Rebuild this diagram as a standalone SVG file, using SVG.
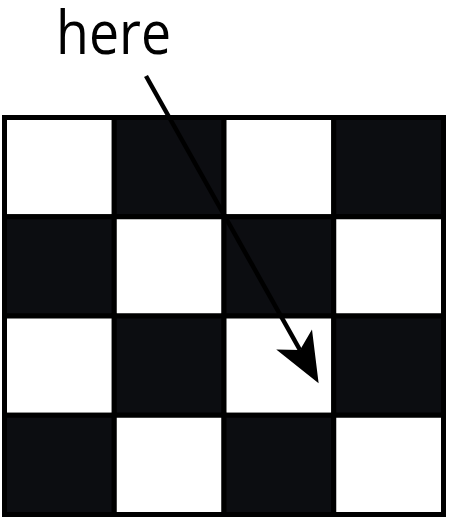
<svg xmlns="http://www.w3.org/2000/svg" width="450" height="520" viewBox="0 0 450 520">
<style>
.w{fill:#ffffff;stroke:#000;stroke-width:5}
.b{fill:#0c0d11;stroke:#000;stroke-width:5}
.lbl{font-family:"Open Sans","Noto Sans",sans-serif;font-size:61px;fill:#000}
.conn{stroke:#000;stroke-width:4.5;fill:none}
</style>
<defs>
<marker id="ah" markerUnits="userSpaceOnUse" markerWidth="60" markerHeight="50" viewBox="-15 -25 60 50" refX="0" refY="0" orient="auto" overflow="visible">
<path d="M38,0 L-12,-20.5 L0,0 L-12,20.5 Z" fill="#000"/>
</marker>
</defs>
<g id="board">
<g id="r0">
<rect class="w" x="4.5" y="117.5" width="109.75" height="99.25"/>
<rect class="b" x="114.25" y="117.5" width="109.75" height="99.25"/>
<rect class="w" x="224" y="117.5" width="109.75" height="99.25"/>
<rect class="b" x="333.75" y="117.5" width="109.75" height="99.25"/>
</g>
<g id="r1">
<rect class="b" x="4.5" y="216.75" width="109.75" height="99.25"/>
<rect class="w" x="114.25" y="216.75" width="109.75" height="99.25"/>
<rect class="b" x="224" y="216.75" width="109.75" height="99.25"/>
<rect class="w" x="333.75" y="216.75" width="109.75" height="99.25"/>
</g>
<g id="r2">
<rect class="w" x="4.5" y="316" width="109.75" height="99.25"/>
<rect class="b" x="114.25" y="316" width="109.75" height="99.25"/>
<rect class="w" x="224" y="316" width="109.75" height="99.25"/>
<rect class="b" x="333.75" y="316" width="109.75" height="99.25"/>
</g>
<g id="r3">
<rect class="b" x="4.5" y="415.25" width="109.75" height="99.25"/>
<rect class="w" x="114.25" y="415.25" width="109.75" height="99.25"/>
<rect class="b" x="224" y="415.25" width="109.75" height="99.25"/>
<rect class="w" x="333.75" y="415.25" width="109.75" height="99.25"/>
</g>
<rect x="4.5" y="117.5" width="439" height="397" fill="none" stroke="#000" stroke-width="5"/>
</g>
<g id="label">
<text class="lbl" x="56" y="53.5" textLength="115" lengthAdjust="spacingAndGlyphs">here</text>
</g>
<g id="connectors">
<line class="conn" x1="146" y1="76" x2="300" y2="350" marker-end="url(#ah)"/>
</g>
</svg>
